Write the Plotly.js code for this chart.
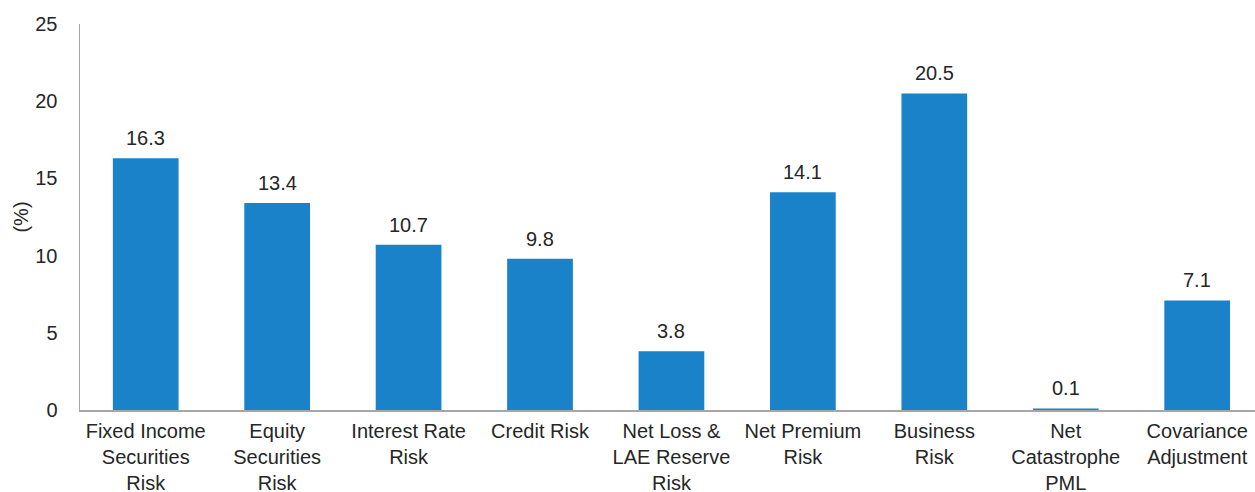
<!DOCTYPE html>
<html>
<head>
<meta charset="utf-8">
<script src="https://cdn.plot.ly/plotly-3.0.1.min.js"></script>
<style>html,body{margin:0;padding:0;background:#fff;}#chart{width:1255px;height:492px;}</style>
</head>
<body>
<div id="chart"></div>
<script>
const categories = [
  "Fixed Income<br>Securities<br>Risk",
  "Equity<br>Securities<br>Risk",
  "Interest Rate<br>Risk",
  "Credit Risk",
  "Net Loss &amp;<br>LAE Reserve<br>Risk",
  "Net Premium<br>Risk",
  "Business<br>Risk",
  "Net<br>Catastrophe<br>PML",
  "Covariance<br>Adjustment"
];
const values = [16.3, 13.4, 10.7, 9.8, 3.8, 14.1, 20.5, 0.1, 7.1];
const yTicks = [0, 5, 10, 15, 20, 25];

const font = {family: "Liberation Sans, Arial, sans-serif", size: 20, color: "#262626"};

const trace = {
  type: "bar",
  x: categories.map((c, i) => i),
  y: values,
  width: 0.5,
  marker: {color: "#1a82c8"},
  hoverinfo: "skip"
};

const annotations = values.map((v, i) => ({
  x: i, y: v, xref: "x", yref: "y",
  text: v.toFixed(1), showarrow: false,
  yanchor: "bottom", yshift: 7,
  font: font
}));

const layout = {
  width: 1255, height: 492,
  margin: {l: 80, r: 0, t: 24, b: 82, pad: 0},
  paper_bgcolor: "#fff", plot_bgcolor: "#fff",
  font: font,
  showlegend: false,
  bargap: 0.5,
  xaxis: {
    range: [-0.5, 8.44],
    tickmode: "array",
    tickvals: categories.map((c, i) => i),
    ticktext: categories,
    tickangle: 0,
    showgrid: false, zeroline: false,
    showline: true, linecolor: "#a6a6a6", linewidth: 1.5,
    ticks: "", automargin: false,
    tickfont: font,
    ticklabelstandoff: 2
  },
  yaxis: {
    range: [0, 25],
    tickmode: "array",
    tickvals: yTicks,
    ticktext: yTicks.map(String),
    showgrid: false, zeroline: false,
    showline: true, linecolor: "#a6a6a6", linewidth: 1.5,
    ticks: "", automargin: false,
    ticklabelstandoff: 17,
    tickfont: font,
    title: {text: "(%)", font: font, standoff: 1}
  },
  annotations: annotations
};

Plotly.newPlot("chart", [trace], layout, {staticPlot: true, displayModeBar: false});
</script>
</body>
</html>
